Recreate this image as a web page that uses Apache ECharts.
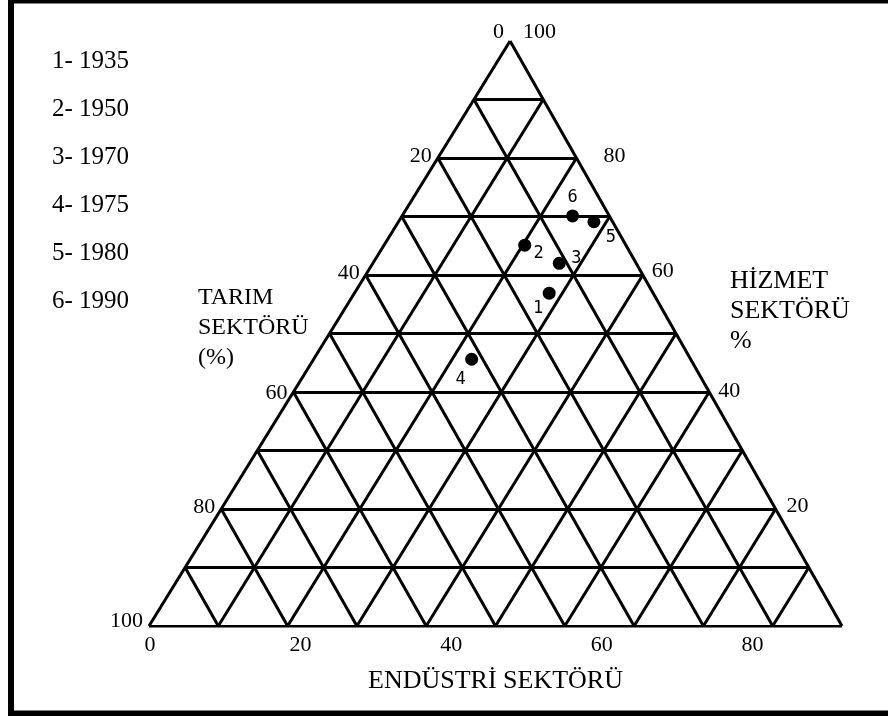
<!DOCTYPE html>
<html>
<head>
<meta charset="utf-8">
<title>Sektörel dağılım</title>
<script src="https://cdn.jsdelivr.net/npm/echarts@6/dist/echarts.min.js"></script>
<style>
  html, body { margin: 0; padding: 0; background: #fff; }
  #chart { width: 888px; height: 716px; }
</style>
</head>
<body>
<div id="chart"></div>
<script>
// years of the six points (numbered 1..6)
const years = [1935, 1950, 1970, 1975, 1980, 1990]
// sector shares in %
const tarim = [15.0, 14.6, 11.1, 31.6, 2.7, 5.3]
const endustri = [28.1, 20.3, 26.9, 22.8, 28.2, 24.6]
const hizmet = [56.9, 65.1, 62.0, 45.6, 69.1, 70.1]
// tick labels on the three sides
const tarimTicks = [0, 20, 40, 60, 80, 100]
const hizmetTicks = [100, 80, 60, 40, 20]
const endustriTicks = [0, 20, 40, 60, 80, 100]
const gridStep = 10

// layout / style only
const APEX_X = 52.1 // the drawn triangle leans a little: apex position on the base axis
const pointLabelOffsets = [[-11, 15], [14, 8], [17, -5], [-11, 20], [17, 16], [0, -18]]
const leftTickDy = [-9, -2, -2, 1, -2, -5]
const rightTickDist = [13, 27, 9, 9, 11]
const rightTickDy = [-9, -2, -4, -1, -3]
const serif = "'Liberation Serif', 'Times New Roman', serif"

function toXY(t, e, h) {
	const s = t + e + h
	return [(e + h * APEX_X / 100) / s * 100, h / s * 100]
}

const segs = []
for (let k = 0; k < 100; k += gridStep) {
	segs.push({ coords: [toXY(100 - k, 0, k), toXY(0, 100 - k, k)] })
	segs.push({ coords: [toXY(k, 100 - k, 0), toXY(k, 0, 100 - k)] })
	segs.push({ coords: [toXY(100 - k, k, 0), toXY(0, k, 100 - k)] })
}

const points = years.map((y, i) => ({
	value: toXY(tarim[i], endustri[i], hizmet[i]),
	label: { offset: pointLabelOffsets[i] },
	name: String(i + 1)
}))

const leftTicks = tarimTicks.map((t, i) => ({
	value: toXY(t, 0, 100 - t),
	name: String(t),
	label: { offset: [0, leftTickDy[i]] }
}))

const rightTicks = hizmetTicks.map((h, i) => ({
	value: toXY(0, 100 - h, h),
	name: String(h),
	label: { distance: rightTickDist[i], offset: [0, rightTickDy[i]] }
}))

const legendTexts = years.map((y, i) => ({
	type: 'text',
	x: 52,
	y: 61 + i * 48,
	style: { text: (i + 1) + '- ' + y, font: '25px ' + serif, fill: '#000', verticalAlign: 'middle' }
}))

const tickLabel = {
	show: true,
	formatter: '{b}',
	fontFamily: serif,
	fontSize: 22,
	color: '#000',
	opacity: 1
}

const chart = echarts.init(document.getElementById('chart'))

const option = {
	animation: false,
	backgroundColor: '#fff',
	grid: [
		{ left: 149, top: 41, width: 693, height: 585, outerBoundsMode: 'none' },
		{ left: 150, top: 600, width: 753, height: 26, outerBoundsMode: 'none' }
	],
	xAxis: [{
		gridIndex: 0,
		type: 'value',
		min: 0,
		max: 100,
		axisLine: { show: false },
		axisTick: { show: false },
		axisLabel: { show: false },
		splitLine: { show: false },
		name: 'ENDÜSTRİ SEKTÖRÜ',
		nameLocation: 'middle',
		nameGap: 42,
		nameTextStyle: { fontFamily: serif, fontSize: 26, color: '#000' }
	}, {
		gridIndex: 1,
		type: 'value',
		min: 0,
		max: 100,
		interval: 20,
		axisLine: { show: false },
		axisTick: { show: false },
		splitLine: { show: false },
		axisLabel: {
			showMinLabel: true,
			showMaxLabel: true,
			margin: 8,
			fontFamily: serif,
			fontSize: 22,
			color: '#000',
			customValues: endustriTicks
		}
	}],
	yAxis: [
		{ gridIndex: 0, type: 'value', min: 0, max: 100, show: false },
		{ gridIndex: 1, type: 'value', min: 0, max: 1, show: false }
	],
	graphic: [
		...legendTexts,
		{
			type: 'text',
			x: 198,
			y: 283,
			style: { text: 'TARIM\nSEKTÖRÜ\n(%)', font: '24px ' + serif, fill: '#000', lineHeight: 30 }
		},
		{
			type: 'text',
			x: 730,
			y: 266,
			style: { text: 'HİZMET\nSEKTÖRÜ\n%', font: '26px ' + serif, fill: '#000', lineHeight: 30 }
		},
		{
			type: 'rect',
			shape: { x: 11, y: 0.5, width: 900, height: 713 },
			style: { fill: 'none', stroke: '#000', lineWidth: 6 },
			z: 100
		}
	],
	series: [{
		type: 'lines',
		coordinateSystem: 'cartesian2d',
		xAxisIndex: 0,
		yAxisIndex: 0,
		silent: true,
		lineStyle: { color: '#000', width: 3, opacity: 1, curveness: 0 },
		data: segs
	}, {
		type: 'scatter',
		xAxisIndex: 0,
		yAxisIndex: 0,
		silent: true,
		symbolSize: 13,
		itemStyle: { color: '#000', opacity: 1 },
		label: {
			show: true,
			position: 'inside',
			formatter: '{b}',
			fontFamily: "'DejaVu Sans Mono', monospace",
			fontSize: 17,
			color: '#000'
		},
		data: points,
		z: 5
	}, {
		type: 'scatter',
		xAxisIndex: 0,
		yAxisIndex: 0,
		silent: true,
		symbolSize: 0,
		itemStyle: { color: '#000' },
		label: Object.assign({ position: 'left', distance: 6 }, tickLabel),
		data: leftTicks
	}, {
		type: 'scatter',
		xAxisIndex: 0,
		yAxisIndex: 0,
		silent: true,
		symbolSize: 0,
		itemStyle: { color: '#000' },
		label: Object.assign({ position: 'right' }, tickLabel),
		data: rightTicks
	}]
}

chart.setOption(option)
</script>
</body>
</html>
